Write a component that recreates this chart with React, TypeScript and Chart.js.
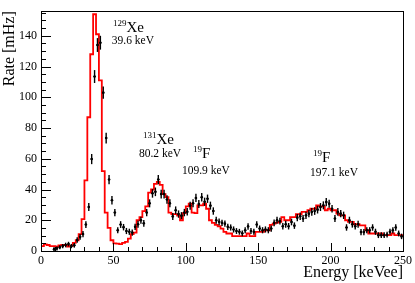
import React, { useEffect, useRef } from 'react';
import { Chart, registerables } from 'chart.js';

Chart.register(...registerables);

const FONT = '"Liberation Serif", "DejaVu Serif", "Times New Roman", serif';

// ---- data ----
const binWidth = 2; // keV, histogram bin width
const mcStart = 0; // keV, left edge of the first simulated bin

// Simulated spectrum (red histogram), one value per 2 keV bin from 0 to 250 keV [mHz]
const mcRate = [
  1.3, 3.2, 4.3, 3.9, 3.2, 3.2, 2.8, 3.7, 3.9, 3.9, // 0-20
  2.8, 3.4, 5.3, 7, 11, 20.7, 46, 87, 128, 154, // 20-40
  141, 111, 52, 25, 15, 7, 5, 4.8, 4.5, 5.3, // 40-60
  6, 8, 11, 12, 20, 22, 26, 29, 38, 40, // 60-80
  43.7, 45, 43, 37, 35, 25, 24, 24, 23, 20, // 80-100
  24.7, 29, 30.8, 25, 24.7, 29.7, 29.7, 30.8, 27.5, 20, // 100-120
  18.3, 17, 16.1, 14.6, 12.5, 11.4, 11.4, 9.7, 9.7, 9.7, // 120-140
  9.7, 9.7, 11.4, 9.7, 9.7, 12.5, 12.5, 12.5, 13.5, 13.5, // 140-160
  17, 17.8, 18.5, 19, 22, 20, 20, 22, 22, 23.9, // 160-180
  23.9, 25.4, 25.4, 26.5, 27.5, 27.5, 29.7, 29, 29, 26.5, // 180-200
  27.5, 26.5, 26.5, 24.3, 23.2, 23.2, 20, 18.9, 18.9, 17.4, // 200-220
  17.4, 16.7, 16.7, 13.5, 11.4, 11.4, 11.4, 11.4, 11.4, 10.3, // 220-240
  10.3, 10.3, 11.4, 10.3, 10.3, // 240-250
];

const dataStart = 9; // keV, centre of the first measured bin

// Measured rate, one value per 2 keV bin centred at 9, 11, ... 249 keV [mHz]
const dataRate = [
  1.2, 1.7, 2.4, 3.2, 3.9, 4.5, 3.2, 3.7, 7.1, 9.2, // 9-27
  11, 17.2, 28.6, 59.8, 113.5, 134, 135.5, 103, 73.5, 46.5, // 29-47
  33, 25, 13.5, 17.2, 15.5, 13, 12.5, 12, 15.7, 17.4, // 49-67
  20, 18, 25, 31, 37.5, 38.5, 46.5, 37, 37, 33.5, // 69-87
  31, 22.5, 26.5, 24, 23, 25, 25.5, 29.5, 31, 34.5, // 89-107
  30.5, 35, 32, 34, 29.5, 26, 20, 19, 18.3, 17.8, // 109-127
  15.7, 15.3, 14, 13, 12.5, 11.5, 13.5, 16, 13, 12.5, // 129-147
  17.2, 14.6, 13.5, 14, 13.5, 14.6, 18.3, 20, 19.4, 16.1, // 149-167
  17.4, 16.1, 18.9, 16.5, 21.7, 22.6, 21.1, 23.2, 24.3, 25.4, // 169-187
  26, 26.9, 28.6, 29.7, 31.8, 30.8, 27.5, 21.1, 25.4, 24.3, // 189-207
  23.2, 15.3, 20, 17.4, 16.1, 17.4, 12.3, 12.3, 13.5, 13.5, // 209-227
  15.3, 12.5, 10.3, 10.3, 10.3, 10.7, 12.5, 13.5, 15.3, 11.4, // 229-247
  9.5, // 249
];

// Statistical uncertainty of each measured bin [mHz]
const dataErr = [
  1.2, 1.3, 1.3, 1.4, 1.5, 1.5, 1.4, 1.5, 1.8, 1.9,
  2.0, 2.2, 2.6, 3.3, 4.2, 4.5, 4.5, 4.0, 3.5, 3.0,
  2.7, 2.4, 2.0, 2.2, 2.1, 2.0, 2.0, 2.0, 2.1, 2.2,
  2.3, 2.2, 2.4, 2.6, 2.8, 2.8, 3.0, 2.8, 2.8, 2.7,
  2.6, 2.3, 2.5, 2.4, 2.3, 2.4, 2.4, 2.6, 2.6, 2.7,
  2.6, 2.8, 2.7, 2.7, 2.6, 2.4, 2.2, 2.2, 2.1, 2.1,
  2.0, 2.0, 2.0, 1.9, 1.9, 1.9, 1.9, 2.1, 1.9, 1.9,
  2.1, 2.0, 2.0, 2.0, 2.0, 2.0, 2.2, 2.3, 2.2, 2.1,
  2.2, 2.1, 2.2, 2.1, 2.3, 2.4, 2.3, 2.4, 2.4, 2.5,
  2.5, 2.5, 2.6, 2.6, 2.7, 2.6, 2.5, 2.3, 2.5, 2.4,
  2.4, 2.1, 2.3, 2.2, 2.1, 2.2, 2.0, 2.0, 2.0, 2.0,
  2.1, 2.0, 1.9, 1.9, 1.9, 1.9, 2.0, 2.0, 2.1, 1.9,
  1.8,
];

// Peak annotations
const peakMass = ['129', '131', '19', '19'];
const peakElement = ['Xe', 'Xe', 'F', 'F'];
const peakEnergy = ['39.6 keV', '80.2 keV', '109.9 keV', '197.1 keV'];

const xTitle = 'Energy [keVee]';
const yTitle = 'Rate [mHz]';

// ---- derived tables ----
const mcPoints = mcRate.map((v, i) => ({ x: mcStart + i * binWidth, y: v }));
mcPoints.push({ x: mcStart + mcRate.length * binWidth, y: mcRate[mcRate.length - 1] });
const dataEnergy = dataRate.map((_, i) => dataStart + i * binWidth);
const dataPoints = dataRate.map((v, i) => ({ x: dataEnergy[i], y: v }));

// ---- layout of annotations (anchor in axis units) ----
const labelAnchor = [
  { mx: 49.7, my: 142.6, ex: 48.9, ey: 134.6 },
  { mx: 70.4, my: 69.7, ex: 67.6, ey: 61.3 },
  { mx: 104.9, my: 60.6, ex: 97.3, ey: 50.3 },
  { mx: 187.9, my: 58.1, ex: 185.8, ey: 49 },
];

const rootStyle = {
  id: 'rootStyle',
  afterDatasetsDraw(chart: any) {
    const { ctx, scales } = chart;
    const x = scales.x;
    const y = scales.y;
    ctx.save();
    ctx.strokeStyle = '#000';
    dataRate.forEach((v, i) => {
      const px = x.getPixelForValue(dataEnergy[i]);
      const py = y.getPixelForValue(v);
      const top = y.getPixelForValue(v + dataErr[i]);
      const bot = y.getPixelForValue(Math.max(0, v - dataErr[i]));
      ctx.lineWidth = 1.4;
      ctx.beginPath();
      ctx.moveTo(px, top);
      ctx.lineTo(px, bot);
      ctx.stroke();
      ctx.lineWidth = 1.2;
      ctx.beginPath();
      ctx.moveTo(x.getPixelForValue(dataEnergy[i] - 0.75), py);
      ctx.lineTo(x.getPixelForValue(dataEnergy[i] + 0.75), py);
      ctx.stroke();
    });
    ctx.restore();
  },
  afterDraw(chart: any) {
    const { ctx, chartArea: a, scales } = chart;
    const x = scales.x;
    const y = scales.y;
    ctx.save();
    ctx.strokeStyle = '#000';
    ctx.lineWidth = 1;
    // frame
    ctx.strokeRect(Math.round(a.left) + 0.5, Math.round(a.top) + 0.5, Math.round(a.right - a.left), Math.round(a.bottom - a.top));
    // x ticks (inside)
    ctx.beginPath();
    for (let v = x.min; v <= x.max + 1e-6; v += 10) {
      const px = Math.round(x.getPixelForValue(v)) + 0.5;
      const len = v % 50 === 0 ? 8 : 4;
      ctx.moveTo(px, a.bottom);
      ctx.lineTo(px, a.bottom - len);
    }
    // y ticks (inside)
    for (let v = y.min; v <= y.max + 1e-6; v += 5) {
      const py = Math.round(y.getPixelForValue(v)) + 0.5;
      const len = v % 20 === 0 ? 10 : 5;
      ctx.moveTo(a.left, py);
      ctx.lineTo(a.left + len, py);
    }
    ctx.stroke();

    // annotations
    ctx.fillStyle = '#000';
    ctx.textBaseline = 'alphabetic';
    ctx.textAlign = 'left';
    labelAnchor.forEach((p, i) => {
      const mx = x.getPixelForValue(p.mx);
      const my = y.getPixelForValue(p.my);
      ctx.font = `9px ${FONT}`;
      ctx.fillText(peakMass[i], mx, my - 6);
      const w = ctx.measureText(peakMass[i]).width;
      ctx.font = `15px ${FONT}`;
      ctx.fillText(peakElement[i], mx + w, my);
      ctx.font = `11.5px ${FONT}`;
      ctx.fillText(peakEnergy[i], x.getPixelForValue(p.ex), y.getPixelForValue(p.ey));
    });
    ctx.restore();
  },
};

export default function App() {
  const ref = useRef<HTMLCanvasElement>(null);
  useEffect(() => {
    document.body.style.margin = '0';
    const tickFont = { family: FONT, size: 12 };
    const titleFont = { family: FONT, size: 16 };
    const chart = new Chart(ref.current as HTMLCanvasElement, {
      type: 'scatter',
      data: {
        datasets: [
          {
            type: 'scatter',
            label: 'Data',
            data: dataPoints,
            pointRadius: 1.3,
            pointHoverRadius: 1.3,
            pointBackgroundColor: '#000',
            pointBorderColor: '#000',
            pointBorderWidth: 0,
          },
          {
            type: 'line',
            label: 'Simulation',
            data: mcPoints,
            stepped: 'after',
            borderColor: '#ff0000',
            borderWidth: 1.8,
            pointRadius: 0,
            fill: false,
            tension: 0,
          },
        ],
      } as any,
      options: {
        animation: false,
        responsive: false,
        devicePixelRatio: 1,
        layout: { padding: { top: 9, right: 11, left: 0, bottom: 0 } },
        plugins: { legend: { display: false }, tooltip: { enabled: false } },
        scales: {
          x: {
            type: 'linear',
            min: 0,
            max: 250,
            grid: { display: false, drawTicks: false },
            border: { display: false },
            ticks: { stepSize: 50, padding: 3, color: '#000', font: tickFont, maxRotation: 0 },
            title: { display: true, text: xTitle, align: 'end', color: '#000', font: titleFont, padding: { top: 0, bottom: 1 } },
            afterFit: (s: any) => { s.height = 32; },
          },
          y: {
            type: 'linear',
            min: 0,
            max: 156,
            grid: { display: false, drawTicks: false },
            border: { display: false },
            ticks: { stepSize: 20, includeBounds: false, padding: 4, color: '#000', font: tickFont },
            title: { display: true, text: yTitle, align: 'end', color: '#000', font: titleFont, padding: { top: 0, bottom: 0 } },
            afterFit: (s: any) => { s.width = 41; },
          },
        },
      } as any,
      plugins: [rootStyle],
    });
    return () => chart.destroy();
  }, []);
  return (
    <div style={{ position: 'fixed', left: 0, top: 0, width: 415, height: 283 }}>
      <canvas ref={ref} width={415} height={283} style={{ width: 415, height: 283, display: 'block' }} />
    </div>
  );
}
